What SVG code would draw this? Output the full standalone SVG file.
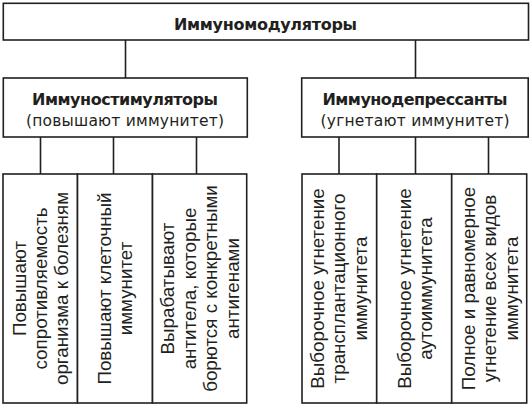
<svg xmlns="http://www.w3.org/2000/svg" width="530" height="408" viewBox="0 0 530 408">
<style>
  rect { fill: #fff; stroke: #231f20; stroke-width: 1.6; }
  .conn line { stroke: #231f20; stroke-width: 1.6; }
  .t { font-family: "DejaVu Sans", "Noto Sans", sans-serif; fill: #231f20; text-anchor: middle; }
  .b { font-weight: bold; font-size: 16px; }
  .r { font-size: 15.5px; }
  .v { font-family: "Liberation Sans", Arial, sans-serif; font-size: 18.8px; fill: #231f20; text-anchor: middle; }
</style>
<rect x="0" y="0" width="530" height="408" style="stroke:none" fill="#fff"/>
<g class="conn" id="connectors">
  <line x1="125.5" y1="40" x2="125.5" y2="78"/>
  <line x1="415.5" y1="40" x2="415.5" y2="78"/>
  <line x1="40.5" y1="137" x2="40.5" y2="174"/>
  <line x1="113.5" y1="137" x2="113.5" y2="174"/>
  <line x1="196.5" y1="137" x2="196.5" y2="174"/>
  <line x1="339" y1="137" x2="339" y2="174"/>
  <line x1="415.5" y1="137" x2="415.5" y2="174"/>
  <line x1="488.5" y1="137" x2="488.5" y2="174"/>
</g>
<g id="root">
  <rect x="3.3" y="3.3" width="525.2" height="36.7"/>
  <text class="t b" x="265.5" y="30" textLength="183">Иммуномодуляторы</text>
</g>
<g id="stim">
  <rect x="3.3" y="78" width="244" height="59"/>
  <text class="t b" x="125" y="105" textLength="186">Иммуностимуляторы</text>
  <text class="t r" x="125" y="125.5" textLength="198">(повышают иммунитет)</text>
</g>
<g id="depr">
  <rect x="301.7" y="78" width="226.5" height="59"/>
  <text class="t b" x="415" y="105" textLength="185">Иммунодепрессанты</text>
  <text class="t r" x="415" y="125.5" textLength="189">(угнетают иммунитет)</text>
</g>
<g id="s1">
  <rect x="3" y="174" width="74.5" height="229"/>
  <g transform="rotate(-90)">
    <text class="v" x="-288.5" y="25.5">Повышают</text>
    <text class="v" x="-288.5" y="46.5">сопротивляемость</text>
    <text class="v" x="-288.5" y="67.5">организма к болезням</text>
  </g>
</g>
<g id="s2">
  <rect x="77.5" y="174" width="75" height="229"/>
  <g transform="rotate(-90)">
    <text class="v" x="-288.5" y="111">Повышают клеточный</text>
    <text class="v" x="-288.5" y="132.4">иммунитет</text>
  </g>
</g>
<g id="s3">
  <rect x="152.5" y="174" width="94.2" height="229"/>
  <g transform="rotate(-90)">
    <text class="v" x="-288.5" y="174.3">Вырабатывают</text>
    <text class="v" x="-288.5" y="195.8">антитела, которые</text>
    <text class="v" x="-288.5" y="217.3">борются с конкретными</text>
    <text class="v" x="-288.5" y="238.8">антигенами</text>
  </g>
</g>
<g id="d1">
  <rect x="302" y="174" width="74.7" height="229"/>
  <g transform="rotate(-90)">
    <text class="v" x="-288.5" y="323.5">Выборочное угнетение</text>
    <text class="v" x="-288.5" y="345">трансплантационного</text>
    <text class="v" x="-288.5" y="366.5">иммунитета</text>
  </g>
</g>
<g id="d2">
  <rect x="376.7" y="174" width="75" height="229"/>
  <g transform="rotate(-90)">
    <text class="v" x="-288.5" y="410.6">Выборочное угнетение</text>
    <text class="v" x="-288.5" y="431.6">аутоиммунитета</text>
  </g>
</g>
<g id="d3">
  <rect x="451.7" y="174" width="75" height="229"/>
  <g transform="rotate(-90)">
    <text class="v" x="-288.5" y="474.8">Полное и равномерное</text>
    <text class="v" x="-288.5" y="496.3">угнетение всех видов</text>
    <text class="v" x="-288.5" y="517.8">иммунитета</text>
  </g>
</g>
</svg>
